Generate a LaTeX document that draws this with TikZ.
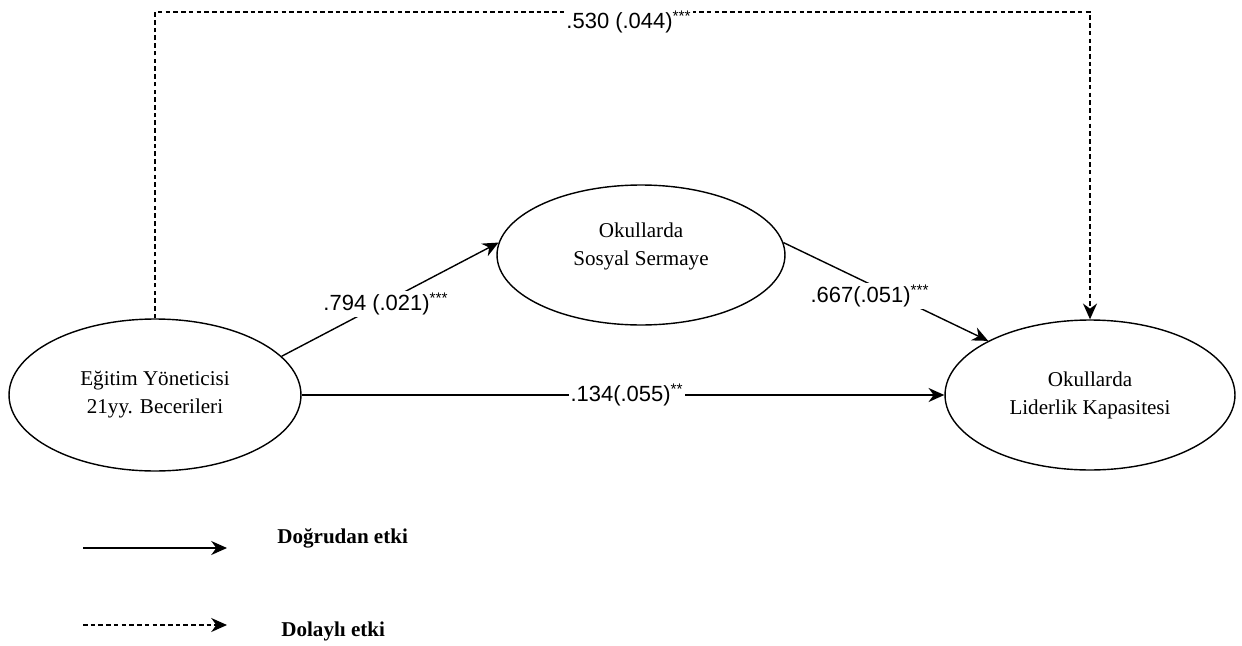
\documentclass[tikz,border=0pt]{standalone}
\usepackage{fontspec}
\setmainfont{Liberation Serif}
\newfontfamily\numfont{Liberation Sans}
\usetikzlibrary{shapes.geometric,arrows.meta}

\tikzset{
  latent/.style={ellipse, draw, line width=0.8pt, align=center, inner sep=0pt, font=\fontsize{12}{16}\selectfont},
  path/.style={line width=0.8pt, -{Stealth[length=9pt,width=8pt]}},
  indirect/.style={path, dash pattern=on 2.6pt off 1.8pt},
  coef/.style={fill=white, inner sep=1pt, font=\numfont\fontsize{12.5}{14}\selectfont},
  legendtext/.style={anchor=west, inner sep=0pt, font=\bfseries\fontsize{12}{14}\selectfont}
}

\begin{document}
\begin{tikzpicture}[x=0.02cm, y=-0.02cm]
  \useasboundingbox (0,0) rectangle (1242,646);

  % The three constructs
  \node[latent, minimum width=5.84cm, minimum height=3.04cm] (egitim) at (155,395) {E\u{g}itim Yöneticisi\\21yy. Becerileri};
  \node[latent, minimum width=5.76cm, minimum height=2.80cm] (sosyal) at (641,255) {Okullarda\\Sosyal Sermaye\\[-4pt]\mbox{}};
  \node[latent, minimum width=5.80cm, minimum height=3.00cm] (kapasite) at (1090,395) {Okullarda\\Liderlik Kapasitesi};

  % Direct paths
  \draw[path] (egitim.17) -- (sosyal.175); % a path
  \draw[path] (sosyal.5) -- (kapasite.152); % b path
  \draw[path] (egitim.east) -- (kapasite.west); % c' path

  % Indirect path over the top
  \coordinate (topL) at (155,12);
  \coordinate (topR) at (1090,12);
  \draw[indirect] (egitim.north) -- (topL) -- (topR) -- (kapasite.north);

  % Coefficients
  \node[coef] (c530) at (629,22) {.530 (.044)\textsuperscript{***}};
  \node[coef] (c794) at (386,304) {.794 (.021)\textsuperscript{***}};
  \node[coef] (c667) at (870,296) {.667(.051)\textsuperscript{***}};
  \node[coef] (c134) at (627,395) {.134(.055)\textsuperscript{**}};

  % Legend
  \coordinate (d1) at (83,548);
  \coordinate (d2) at (227,548);
  \coordinate (i1) at (83,625);
  \coordinate (i2) at (227,625);
  \draw[path] (d1) -- (d2);
  \draw[indirect] (i1) -- (i2);
  \node[legendtext] (direct) at (277,538) {Do\u{g}rudan etki};
  \node[legendtext] (indir) at (281,631) {Dolayl\i{} etki};
\end{tikzpicture}
\end{document}
